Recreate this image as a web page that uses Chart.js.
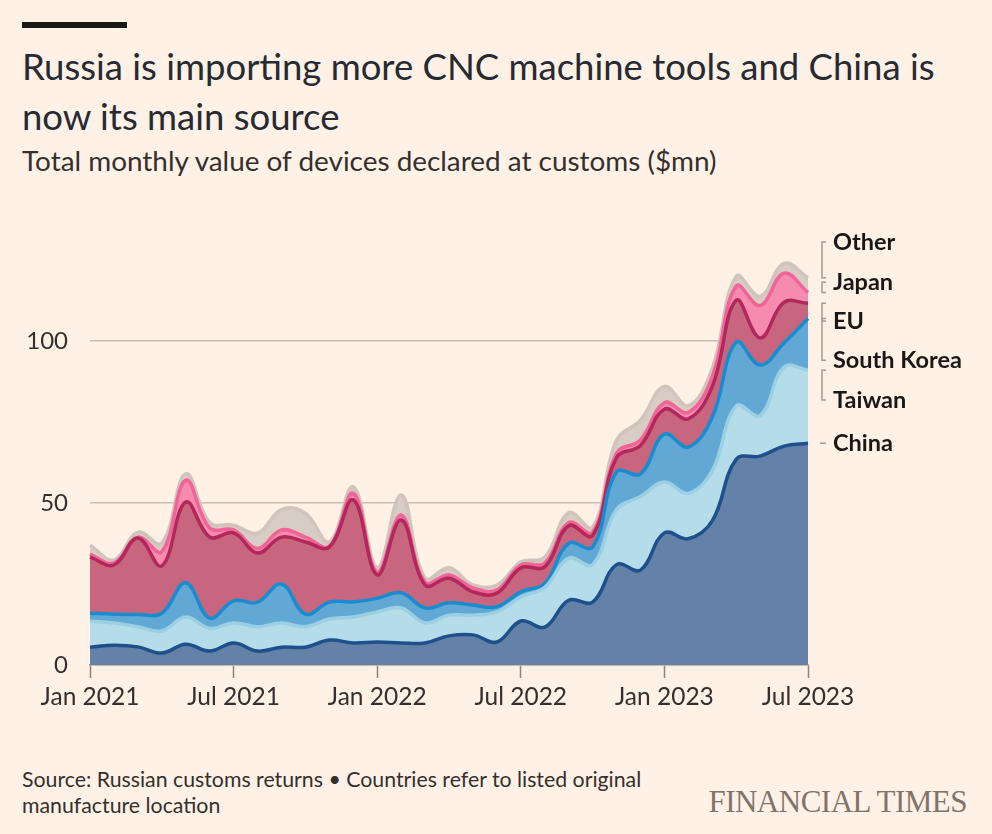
<!DOCTYPE html>
<html>
<head>
<meta charset="utf-8">
<script src="https://cdn.jsdelivr.net/npm/chart.js@4.4.0/dist/chart.umd.min.js"></script>
<style>
  html, body { margin: 0; padding: 0; background: #fff1e5; }
  body { width: 992px; height: 834px; position: relative; overflow: hidden; font-family: Lato, "Open Sans", sans-serif; color: #33302e; }
  #bar { position: absolute; left: 22px; top: 22px; width: 105px; height: 6px; background: #1a1817; }
  #title { position: absolute; left: 22px; top: 41px; font-size: 36.5px; line-height: 50px; color: #262a33; width: 968px; white-space: nowrap; }
  #subtitle { position: absolute; left: 22px; top: 144px; font-size: 27.9px; line-height: 32px; color: #33302e; white-space: nowrap; }
  #wrap { position: absolute; left: 0; top: 200px; width: 992px; height: 520px; }
  #source { position: absolute; left: 22px; top: 766px; font-size: 21.3px; line-height: 26px; color: #33302e; width: 700px; white-space: nowrap; }
  #ft { position: absolute; right: 25px; top: 784px; font-family: "Liberation Serif", "DejaVu Serif", serif; font-size: 31px; color: #7f746c; letter-spacing: -0.5px; }
</style>
</head>
<body>
<div id="bar"></div>
<div id="title">Russia is importing more CNC machine tools and China is<br>now its main source</div>
<div id="subtitle">Total monthly value of devices declared at customs ($mn)</div>
<div id="wrap"><canvas id="c"></canvas></div>
<div id="source">Source: Russian customs returns • Countries refer to listed original<br>manufacture location</div>
<div id="ft">FINANCIAL TIMES</div>
<script>
const months = [
  "Jan 2021","Feb 2021","Mar 2021","Apr 2021","May 2021","Jun 2021","Jul 2021","Aug 2021","Sep 2021","Oct 2021","Nov 2021","Dec 2021",
  "Jan 2022","Feb 2022","Mar 2022","Apr 2022","May 2022","Jun 2022","Jul 2022","Aug 2022","Sep 2022","Oct 2022","Nov 2022","Dec 2022",
  "Jan 2023","Feb 2023","Mar 2023","Apr 2023","May 2023","Jun 2023","Jul 2023"
];
const china  = [5.5, 6.1, 5.6, 3.7, 6.4, 4.3, 6.8, 4.3, 5.5, 5.5, 7.7, 6.8, 7.1, 6.8, 6.8, 9.0, 9.3, 7.1, 13.6, 11.7, 20, 19.4, 31, 29.3, 40.8, 39, 44.5, 63.5, 64.5, 67.6, 68.5];
const taiwan = [8.0, 6.9, 6.2, 6.8, 8.4, 7.0, 6.2, 7.5, 7.5, 6.3, 6.5, 8.0, 9.3, 10.8, 6.2, 6.4, 6.1, 9.3, 7.4, 12.3, 13, 11.6, 17, 22.7, 15.7, 14, 15.5, 16.5, 12.5, 24.4, 22.5];
const southKorea = [2.5, 2.7, 3.8, 5.5, 10.6, 3.2, 6.8, 7.6, 12, 3.9, 5.2, 4.7, 4.2, 4.7, 4.6, 3.8, 3.1, 1.6, 1.6, 1.2, 4.6, 5.4, 11.6, 7, 14.8, 14.3, 16.5, 19.7, 15.6, 7.5, 16];
const eu     = [17.3, 15.2, 23.6, 14.6, 24.9, 25, 21, 15.2, 14.5, 22.3, 17, 31.5, 7.2, 22.5, 7.1, 7.6, 4.1, 4.2, 7.4, 5.1, 5.4, 3.6, 4.4, 8.8, 7.7, 8.7, 9.5, 12.9, 8.4, 12.5, 4.7];
const japan  = [0.9, 0.6, 0.3, 4.4, 6.7, 2.8, 0.9, 1.4, 2.2, 1.5, 0.3, 2, 0.9, 1.5, 0.9, 1, 1.2, 1, 0.9, 1.2, 1, 1, 1.4, 1.7, 2, 2, 3, 4.4, 10, 9, 3.3];
const other  = [2.8, 0.9, 1.5, 2.6, 2, 1.7, 1.5, 4.7, 6.3, 7.4, 1.3, 2, 1.3, 6.2, 1.2, 2.2, 0.9, 1.5, 0.9, 1.8, 3, 1.5, 4, 6.1, 5, 2, 2.5, 3, 2.8, 3, 4.6];

const seriesNames = ["China", "Taiwan", "South Korea", "EU", "Japan", "Other"];
const seriesData = [china, taiwan, southKorea, eu, japan, other];
const fillColors = ["#6482a8", "#b4dce9", "#62a8d4", "#c86680", "#f58cb0", "#d8cdc4"];
const lineColors = ["#1e508c", "#9acfe4", "#198ccd", "#b2285a", "#f06496", "#d0c4bc"];
// label anchor values (in $mn units) for the right-hand labels
const labelValues = [68.5, 81.8, 94.1, 106.2, 118.2, 130.6];
const yTicks = [0, 50, 100];
const shownTickIdx = [0, 6, 12, 18, 24, 30];

const datasets = seriesData.map((d, i) => ({
  label: seriesNames[i],
  data: d,
  backgroundColor: fillColors[i],
  borderColor: lineColors[i],
  borderWidth: 3.5,
  fill: i === 0 ? 'origin' : '-1',
  tension: 0.4,
  pointRadius: 0,
  pointHoverRadius: 0
}));

const labelPlugin = {
  id: 'rightLabels',
  afterDraw(chart) {
    const ctx = chart.ctx;
    const y = chart.scales.y;
    const right = chart.chartArea.right;
    const last = months.length - 1;
    let cum = 0;
    const bx = right + 14;
    ctx.save();
    for (let i = 0; i < seriesData.length; i++) {
      cum += seriesData[i][last];
      const topPx = y.getPixelForValue(cum);
      const labPx = y.getPixelForValue(labelValues[i]);
      ctx.strokeStyle = '#a39a93';
      ctx.lineWidth = 1.5;
      ctx.beginPath();
      if (Math.abs(topPx - labPx) < 3) {
        ctx.moveTo(bx - 2, labPx);
        ctx.lineTo(bx + 4, labPx);
      } else {
        ctx.moveTo(bx + 4, topPx);
        ctx.lineTo(bx, topPx);
        ctx.lineTo(bx, labPx);
        ctx.lineTo(bx + 4, labPx);
      }
      ctx.stroke();
      ctx.fillStyle = '#1a1817';
      ctx.font = 'bold 23.5px Lato, "Open Sans", sans-serif';
      ctx.textBaseline = 'middle';
      ctx.textAlign = 'left';
      ctx.fillText(seriesNames[i], right + 25, labPx);
    }
    ctx.restore();
  }
};

new Chart(document.getElementById('c'), {
  type: 'line',
  data: { labels: months, datasets },
  options: {
    responsive: true,
    maintainAspectRatio: false,
    animation: false,
    events: [],
    layout: { padding: { top: 44, right: 184, left: 0, bottom: 0 } },
    plugins: { legend: { display: false }, tooltip: { enabled: false }, filler: { propagate: false } },
    scales: {
      x: {
        type: 'category',
        offset: false,
        afterFit: s => { s.height = 55; },
        grid: {
          drawOnChartArea: false,
          drawTicks: true,
          tickLength: 13,
          tickWidth: 1.5,
          tickColor: c => shownTickIdx.includes(c.index) ? '#8c827b' : 'rgba(0,0,0,0)'
        },
        border: { display: true, color: '#a89d94', width: 1.5 },
        ticks: {
          autoSkip: false,
          maxRotation: 0,
          padding: 4,
          color: '#33302e',
          font: { size: 24.5, family: 'Lato, "Open Sans", sans-serif' },
          callback: (v, i) => shownTickIdx.includes(i) ? months[i] : ''
        }
      },
      y: {
        stacked: true,
        min: 0,
        max: 130,
        afterFit: s => { s.width = 90; },
        afterBuildTicks: s => { s.ticks = yTicks.map(v => ({ value: v })); },
        grid: { color: '#cbbdb2', lineWidth: 1.5, drawTicks: false },
        border: { display: false },
        ticks: {
          padding: 22,
          color: '#33302e',
          font: { size: 24, family: 'Lato, "Open Sans", sans-serif' }
        }
      }
    }
  },
  plugins: [labelPlugin]
});
</script>
</body>
</html>
